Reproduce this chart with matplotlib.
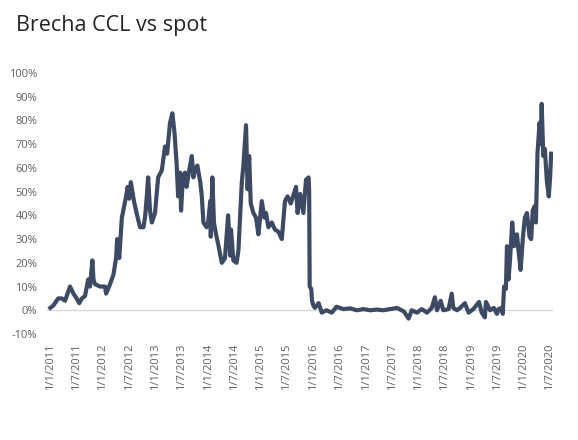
import matplotlib
matplotlib.use("Agg")
import matplotlib.pyplot as plt
import matplotlib.ticker as mticker
import pandas as pd

plt.rcParams['font.family'] = ['Open Sans', 'DejaVu Sans']

title = "Brecha CCL vs spot"

# time as decimal years since 2011-01-01, value in %
t_years = [
    0.00, 0.057, 0.15, 0.22, 0.28, 0.375, 0.44, 0.50, 0.55, 0.60, 0.66, 0.72, 0.755, 0.80, 0.82,
    0.85, 0.945, 1.04, 1.06, 1.135, 1.20, 1.25, 1.27, 1.31, 1.36, 1.44, 1.47, 1.50, 1.53, 1.59,
    1.64, 1.705, 1.77, 1.80, 1.83, 1.86, 1.895, 1.93, 1.99, 2.05, 2.12, 2.18, 2.22, 2.275, 2.32,
    2.36, 2.40, 2.43, 2.47, 2.485, 2.52, 2.56, 2.59, 2.64, 2.69, 2.72, 2.75, 2.795, 2.85, 2.88,
    2.91, 2.97, 3.00, 3.04, 3.05, 3.08, 3.11, 3.15, 3.19, 3.26, 3.32, 3.38, 3.42, 3.435, 3.48,
    3.54, 3.575, 3.64, 3.67, 3.72, 3.75, 3.78, 3.81, 3.86, 3.91, 3.955, 4.02, 4.07, 4.10, 4.145,
    4.21, 4.27, 4.34, 4.40, 4.46, 4.51, 4.57, 4.67, 4.70, 4.75, 4.81, 4.86, 4.91, 4.92, 4.93,
    4.96, 4.975, 5.00, 5.03, 5.10, 5.16, 5.25, 5.35, 5.44, 5.57, 5.70, 5.83, 5.95, 6.08, 6.21,
    6.33, 6.46, 6.59, 6.72, 6.81, 6.87, 6.97, 7.06, 7.16, 7.25, 7.31, 7.35, 7.42, 7.47, 7.57,
    7.63, 7.66, 7.73, 7.79, 7.88, 7.95, 8.04, 8.15, 8.20, 8.26, 8.28, 8.36, 8.43, 8.49, 8.52,
    8.58, 8.60, 8.61, 8.625, 8.66, 8.68, 8.71, 8.74, 8.78, 8.815, 8.87, 8.90, 8.94, 8.98, 9.02,
    9.06, 9.11, 9.14, 9.17, 9.21, 9.23, 9.26, 9.30, 9.32, 9.34, 9.37, 9.40, 9.44, 9.475, 9.50,
    9.52,
]
gap_pct = [
    1, 2, 5, 5, 4, 10, 7, 5, 3, 5, 6, 13, 10, 21, 13,
    11, 10, 10, 7, 11, 15, 22, 30, 22, 39, 48, 52, 47, 54, 46,
    41, 35, 35, 39, 47, 56, 42, 37, 41, 56, 59, 69, 66, 79, 83,
    75, 62, 48, 58, 42, 56, 58, 52, 59, 65, 56, 59, 61, 54, 48,
    37, 35, 37, 46, 31, 56, 37, 32, 28, 20, 22, 40, 23, 34, 21,
    20, 25, 54, 61, 78, 51, 65, 45, 41, 39, 32, 46, 39, 41, 35,
    37, 34, 33, 30, 46, 48, 45, 52, 41, 49, 41, 55, 56, 50, 10,
    9, 4, 2, 1, 3, -1, 0, -1, 1.5, 0.5, 0.8, 0, 0.5, 0, 0.3,
    0, 0.5, 1, -0.5, -3.5, 0, -1, 0.5, -1, 1, 5.5, 0, 4, 0, 0.5,
    7, 1, 0, 1, 3, -1, 0.5, 3.5, -1, -3, 3.5, 0, 1, -1.5, 0.5,
    1, -1.5, 3, 10, 9, 27, 13, 22, 37, 27, 32, 25, 17, 30, 39,
    41, 31, 30, 42, 44, 37, 66, 79, 70, 87, 65, 68, 54, 48, 56,
    66,
]

y_ticks = list(range(-10, 101, 10))
tick_dates = [f"{y}-{m:02d}-01" for y in range(2011, 2021) for m in (1, 7)]

start = pd.Timestamp("2011-01-01")
dates = [start + pd.Timedelta(days=t * 365.25) for t in t_years]

W, H = 578, 440
fig = plt.figure(figsize=(W / 100, H / 100), dpi=100)
ax = fig.add_axes([47 / W, 1 - 334 / H, (553 - 47) / W, (334 - 73) / H])

ax.axhline(0, color="#d9d9d9", lw=1, zorder=1)
ax.plot(dates, gap_pct, color="#3c4a64", lw=3.0, solid_joinstyle="round", zorder=2)

ax.set_ylim(-10, 100)
ax.set_yticks(y_ticks)
ax.yaxis.set_major_formatter(mticker.FuncFormatter(lambda v, p: f"{int(v)}%"))

td = [pd.Timestamp(d) for d in tick_dates]
ax.set_xticks(td)
ax.set_xticklabels([f"{d.day}/{d.month}/{d.year}" for d in td], rotation=90)
ax.set_xlim(pd.Timestamp("2010-12-09"), pd.Timestamp("2020-07-22"))

for s in ax.spines.values():
    s.set_visible(False)
ax.tick_params(axis="both", length=0, labelsize=8, labelcolor="#605e5c")
ax.tick_params(axis="y", pad=7)
ax.tick_params(axis="x", pad=7)

fig.text(16 / W, 1 - 31 / H, title, fontsize=15.5, color="#252423", ha="left", va="baseline")

fig.savefig("out.png", dpi=100)
